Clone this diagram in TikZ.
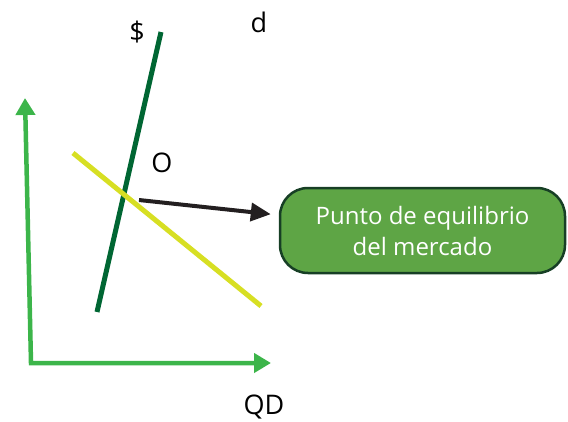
\documentclass[tikz,border=0pt]{standalone}
\usepackage{fontspec}
\setmainfont{Open Sans}
\usepackage{tikz}
\usetikzlibrary{arrows.meta,positioning,calc}

\definecolor{axisgreen}{HTML}{3CB54A}
\definecolor{supplygreen}{HTML}{006633}
\definecolor{demandyellow}{HTML}{D7DF23}
\definecolor{boxgreen}{HTML}{5EA545}
\definecolor{boxedge}{HTML}{173F25}
\definecolor{arrowblack}{HTML}{231F20}

\tikzset{
  axisline/.style={draw=axisgreen,line width=4.5pt,arrows={Triangle[length=17pt,width=19pt]-Triangle[length=17pt,width=19pt]}},
  curve/.style={line width=5pt},
  lbl/.style={inner sep=0pt,anchor=base,font=\fontsize{27}{30}\selectfont},
  infobox/.style={rounded corners=28pt,draw=boxedge,line width=2.5pt,fill=boxgreen,text=white,
    minimum width=285pt,minimum height=85pt,align=center,font=\fontsize{24}{31}\selectfont}
}

\begin{document}
\begin{tikzpicture}[x=1pt,y=-1pt]
      \useasboundingbox (0,0) rectangle (568,421);
      % ejes
      \coordinate (orig) at (31,363);
      \coordinate (ytop) at (25,98);
      \coordinate (xend) at (271,363);
      \draw [axisline] (ytop) -- (orig) -- (xend);
      % oferta y demanda
      \coordinate (s0) at (97,312);
      \coordinate (s1) at (161,32);
      \coordinate (d0) at (73,153);
      \coordinate (d1) at (261,306);
      \draw [curve,supplygreen] (s0) -- (s1);
      \draw [curve,demandyellow] (d0) -- (d1);
      % etiquetas
      \node [lbl] (dollar) at (137,41) {\$};
      \node [lbl] (dlabel) at (259,32) {d};
      \node [lbl] (olabel) at (162,172) {O};
      \node [lbl] (qd) at (264,414) {QD};
      % punto de equilibrio
      \node [infobox] (equilibrio) at (422.5,230.5) {Punto de equilibrio\\del mercado};
      \coordinate (eq) at (139,200);
      \draw [arrowblack,line width=4pt,-{Triangle[length=20pt,width=18pt]},shorten >=8pt] (eq) -- (equilibrio);
    \end{tikzpicture}
\end{document}
